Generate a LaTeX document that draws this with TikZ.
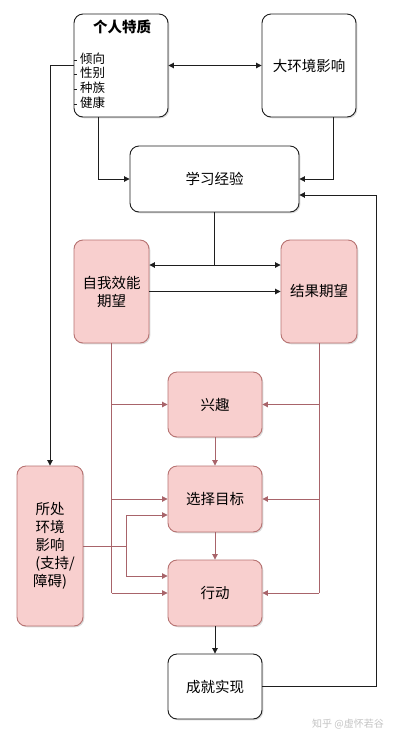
\documentclass[tikz,border=0pt]{standalone}
\usepackage{fontspec}
\setmainfont{Noto Sans CJK SC}
\usetikzlibrary{arrows.meta,shadows}
\definecolor{pinkfill}{HTML}{F8CFCE}
\definecolor{pinkdraw}{HTML}{B77372}
\definecolor{redline}{HTML}{A8646A}
\definecolor{ink}{HTML}{1E1E1E}
\definecolor{wm}{HTML}{C4C4C4}
\begin{document}
\begin{tikzpicture}[x=1pt,y=-1pt,
  box/.style={draw=ink, line width=0.9pt, rounded corners=9pt, fill=white, align=center,
    font=\fontsize{14.5}{18}\selectfont, inner sep=0pt,
    drop shadow={opacity=0.28,shadow xshift=1.3pt,shadow yshift=-1.3pt}},
  pbox/.style={box, draw=pinkdraw, fill=pinkfill},
  blk/.style={draw=ink, line width=0.9pt, -{Triangle[length=5.5pt,width=5.5pt]}},
  blkd/.style={draw=ink, line width=0.9pt, {Triangle[length=5.5pt,width=5.5pt]}-{Triangle[length=5.5pt,width=5.5pt]}},
  blkl/.style={draw=ink, line width=0.9pt},
  red/.style={draw=redline, line width=0.9pt, -{Triangle[length=5.5pt,width=5.5pt]}},
  redl/.style={draw=redline, line width=0.9pt},
  tick/.style={draw=ink, line width=0.8pt}
]
\useasboundingbox (0,0) rectangle (400,740);
\fill[white] (0,0) rectangle (400,740);

% nodes
\node[box, minimum width=94pt, minimum height=103pt] (pt) at (121,65.5) {};
\node[font=\fontsize{14.5}{18}\selectfont\bfseries] (ptt) at (122,27) {个人特质};
\node[anchor=north west, align=left, inner sep=0pt, font=\fontsize{12.5}{14.7}\selectfont] (ptl) at (80,52.5) {倾向\\性别\\种族\\健康};
\draw[tick] (73.5,60) -- (76.5,60) (73.5,74.5) -- (76.5,74.5) (73.5,89) -- (76.5,89) (73.5,104) -- (76.5,104);

\node[box, minimum width=94pt, minimum height=103pt] (env) at (309,65.5) {大环境影响};
\node[box, minimum width=169pt, minimum height=66pt] (le) at (214.5,179) {学习经验};
\node[pbox, minimum width=75pt, minimum height=103pt] (se) at (111.5,291.5) {自我效能\\期望};
\node[pbox, minimum width=76pt, minimum height=103pt] (oe) at (319,291.5) {结果期望};
\node[pbox, minimum width=94pt, minimum height=65pt] (xq) at (215,404.5) {兴趣};
\node[pbox, minimum width=94pt, minimum height=66pt] (goal) at (215,499) {选择目标};
\node[pbox, minimum width=94pt, minimum height=66pt] (act) at (215,593) {行动};
\node[box, minimum width=94pt, minimum height=65pt] (ach) at (215,686.5) {成就实现};
\node[pbox, minimum width=66pt, minimum height=160pt] (env2) at (50,546) {所处\\环境\\影响\\\hspace*{0.7em}(支持/\\障碍)};

\node[text=wm, font=\fontsize{10}{12}\selectfont, inner sep=0pt] (wmk) at (348,724) {知乎 @虚怀若谷};

% coordinates
\coordinate (j1) at (214.5,265);
\coordinate (fb) at (376,195);
\coordinate (j2) at (126,546);

% black connectors
\draw[blkd] (pt.east) -- (env.west);
\draw[blk] (pt.west) -| (env2.north);
\draw[blk] ([xshift=-23pt]pt.south) |- (le.west);
\draw[blk] ([xshift=24pt]env.south) |- (le.east);
\draw[blk] (ach.east) -| (fb) -- (le.east |- fb);
\draw[blkl] (le.south) -- (j1);
\draw[blkd] (se.east |- j1) -- (oe.west |- j1);
\draw[blk] (se.east) -- (oe.west);
\draw[blk] (act.south) -- (ach.north);

% red connectors
\draw[redl] (se.south) -- (se.south |- act.west);
\draw[red] (se.south |- xq.west) -- (xq.west);
\draw[red] (se.south |- goal.west) -- (goal.west);
\draw[red] (se.south |- act.west) -- (act.west);
\draw[redl] (oe.south) -- (oe.south |- act.east);
\draw[red] (oe.south |- xq.east) -- (xq.east);
\draw[red] (oe.south |- goal.east) -- (goal.east);
\draw[red] (oe.south |- act.east) -- (act.east);
\draw[red] (xq.south) -- (goal.north);
\draw[red] (goal.south) -- (act.north);
\draw[redl] (env2.east) -- (j2);
\draw[red] (j2) |- ([yshift=-16pt]goal.west);
\draw[red] (j2) |- ([yshift=17pt]act.west);
\end{tikzpicture}
\end{document}
